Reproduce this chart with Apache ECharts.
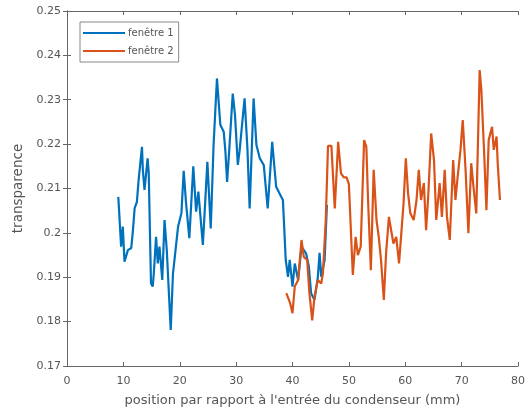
<!DOCTYPE html>
<html>
<head>
<meta charset="utf-8">
<script src="https://cdn.jsdelivr.net/npm/echarts@6/dist/echarts.min.js"></script>
<style>
html,body{margin:0;padding:0;background:#fff;}
#c{width:528px;height:415px;}
</style>
</head>
<body>
<div id="c"></div>
<script>
// ---- data ----
var seriesNames = ['fenêtre 1', 'fenêtre 2'];
var xTicks = [0, 10, 20, 30, 40, 50, 60, 70, 80];
var yTicks = [0.17, 0.18, 0.19, 0.2, 0.21, 0.22, 0.23, 0.24, 0.25];

var x1 = [9.1, 9.6, 9.9, 10.2, 10.8, 11.4, 11.7, 12.0, 12.4, 12.7, 13.3, 13.45, 13.75, 14.3, 14.5, 14.9, 15.2, 15.4, 15.8, 16.1, 16.4, 16.9, 17.3, 17.7, 18.4, 18.8, 19.1, 19.7, 20.3, 20.7, 21.1, 21.7, 22.4, 22.9, 23.3, 24.1, 24.9, 25.5, 26.0, 26.6, 27.2, 27.8, 28.1, 28.4, 28.8, 29.4, 29.8, 30.3, 30.6, 31.5, 32.0, 32.4, 33.1, 33.6, 34.2, 34.9, 35.6, 36.4, 37.1, 37.7, 38.3, 38.8, 39.2, 39.5, 40.0, 40.4, 41.0, 41.6, 42.4, 42.9, 43.3, 43.9, 44.5, 44.8, 45.1, 45.7, 46.1];
var y1 = [0.2081, 0.1969, 0.2014, 0.1935, 0.1961, 0.1966, 0.2006, 0.2056, 0.2070, 0.2119, 0.2194, 0.2142, 0.2097, 0.2168, 0.2134, 0.1886, 0.1879, 0.1909, 0.1991, 0.1931, 0.1969, 0.1894, 0.2029, 0.1961, 0.1781, 0.1909, 0.1943, 0.2014, 0.2045, 0.2140, 0.2070, 0.1988, 0.2150, 0.2048, 0.2093, 0.1973, 0.2160, 0.2010, 0.2198, 0.2348, 0.2243, 0.2228, 0.2183, 0.2115, 0.2191, 0.2314, 0.2266, 0.2153, 0.2183, 0.2303, 0.2191, 0.2055, 0.2303, 0.2198, 0.2168, 0.2153, 0.2055, 0.2205, 0.2104, 0.2089, 0.2074, 0.1939, 0.1901, 0.1939, 0.1879, 0.1931, 0.1894, 0.1969, 0.1954, 0.1924, 0.1864, 0.1849, 0.1901, 0.1955, 0.1901, 0.1939, 0.2063];

var x2 = [38.9, 39.6, 40.0, 40.4, 41.0, 41.6, 42.0, 42.6, 43.0, 43.5, 43.9, 44.5, 45.1, 45.4, 45.9, 46.3, 46.9, 47.5, 48.1, 48.6, 49.1, 49.6, 50.0, 50.7, 51.2, 51.6, 52.1, 52.7, 53.1, 53.4, 53.9, 54.4, 54.9, 55.3, 55.7, 56.2, 56.6, 57.1, 57.5, 57.9, 58.4, 58.9, 59.3, 59.7, 60.1, 60.5, 60.9, 61.5, 62.0, 62.4, 62.8, 63.3, 63.7, 64.1, 64.6, 65.1, 65.5, 66.1, 66.5, 67.0, 67.4, 67.9, 68.5, 68.9, 69.3, 69.8, 70.2, 70.7, 71.2, 71.7, 72.1, 72.6, 73.2, 73.5, 74.0, 74.4, 74.8, 75.4, 75.7, 76.2, 76.4, 76.8];
var y2 = [0.1864, 0.1841, 0.1819, 0.1879, 0.1894, 0.1984, 0.1946, 0.1939, 0.1864, 0.1803, 0.1856, 0.1894, 0.1886, 0.1909, 0.2029, 0.2196, 0.2196, 0.2055, 0.2205, 0.2134, 0.2125, 0.2125, 0.2110, 0.1905, 0.1991, 0.1950, 0.1969, 0.2209, 0.2194, 0.2074, 0.1916, 0.2142, 0.2029, 0.1991, 0.1939, 0.1849, 0.1954, 0.2036, 0.2006, 0.1976, 0.1991, 0.1931, 0.1999, 0.2067, 0.2168, 0.2089, 0.2044, 0.2029, 0.2074, 0.2142, 0.2074, 0.2112, 0.2006, 0.2089, 0.2224, 0.2164, 0.2029, 0.2112, 0.2036, 0.2142, 0.2036, 0.1984, 0.2164, 0.2074, 0.2127, 0.2187, 0.2254, 0.2142, 0.1999, 0.2157, 0.2104, 0.2044, 0.2367, 0.2322, 0.2179, 0.2051, 0.2209, 0.2239, 0.2187, 0.2217, 0.2157, 0.2074];

var xLabel = "position par rapport à l'entrée du condenseur (mm)";
var yLabel = 'transparence';

// ---- chart ----
function pairs(xs, ys) { return xs.map(function (x, i) { return [x, ys[i]]; }); }
var axisColor = '#666';
var textColor = '#555';
var font = '"DejaVu Sans", sans-serif';

var chart = echarts.init(document.getElementById('c'), null, {renderer: 'canvas'});
chart.setOption({
  animation: false,
  backgroundColor: '#fff',
  grid: {left: 67, right: 10, top: 11, bottom: 49, containLabel: false},
  legend: {
    left: 80, top: 22, orient: 'vertical',
    data: seriesNames,
    icon: 'rect', itemWidth: 42, itemHeight: 2, itemGap: 8,
    padding: [6, 5, 6, 3],
    borderColor: '#888', borderWidth: 1,
    textStyle: {color: textColor, fontSize: 10, fontFamily: font, padding: [0, 0, 0, -2]}
  },
  xAxis: [{
    type: 'value', min: xTicks[0], max: xTicks[xTicks.length - 1], interval: 10,
    position: 'bottom',
    axisLine: {lineStyle: {color: axisColor, width: 1}},
    axisTick: {inside: true, length: 4, lineStyle: {color: axisColor}},
    axisLabel: {color: textColor, fontSize: 11, fontFamily: font, margin: 10},
    splitLine: {show: false},
    name: xLabel, nameLocation: 'middle', nameGap: 28,
    nameTextStyle: {color: textColor, fontSize: 13, fontFamily: font}
  }, {
    type: 'value', min: xTicks[0], max: xTicks[xTicks.length - 1], interval: 10,
    position: 'top',
    axisLine: {show: true, lineStyle: {color: axisColor, width: 1}},
    axisTick: {inside: true, length: 4, lineStyle: {color: axisColor}},
    axisLabel: {show: false}, splitLine: {show: false}
  }],
  yAxis: [{
    type: 'value', min: yTicks[0], max: yTicks[yTicks.length - 1], interval: 0.01,
    position: 'left',
    axisLine: {show: true, lineStyle: {color: axisColor, width: 1}},
    axisTick: {show: true, inside: true, length: 4, lineStyle: {color: axisColor}},
    axisLabel: {color: textColor, fontSize: 11, fontFamily: font, margin: 6,
      formatter: function (v) { return String(parseFloat(v.toFixed(2))); }},
    splitLine: {show: false},
    name: yLabel, nameLocation: 'middle', nameGap: 40,
    nameTextStyle: {color: textColor, fontSize: 13.5, fontFamily: font}
  }, {
    type: 'value', min: yTicks[0], max: yTicks[yTicks.length - 1], interval: 0.01,
    position: 'right',
    axisLine: {show: true, lineStyle: {color: axisColor, width: 1}},
    axisTick: {show: true, inside: true, length: 4, lineStyle: {color: axisColor}},
    axisLabel: {show: false}, splitLine: {show: false}
  }],
  series: [{
    name: seriesNames[0], type: 'line', data: pairs(x1, y1),
    showSymbol: false, symbol: 'none', color: '#0072BD',
    lineStyle: {width: 2.2, color: '#0072BD'}
  }, {
    name: seriesNames[1], type: 'line', data: pairs(x2, y2),
    showSymbol: false, symbol: 'none', color: '#D95319',
    lineStyle: {width: 2.2, color: '#D95319'}
  }]
});
</script>
</body>
</html>
